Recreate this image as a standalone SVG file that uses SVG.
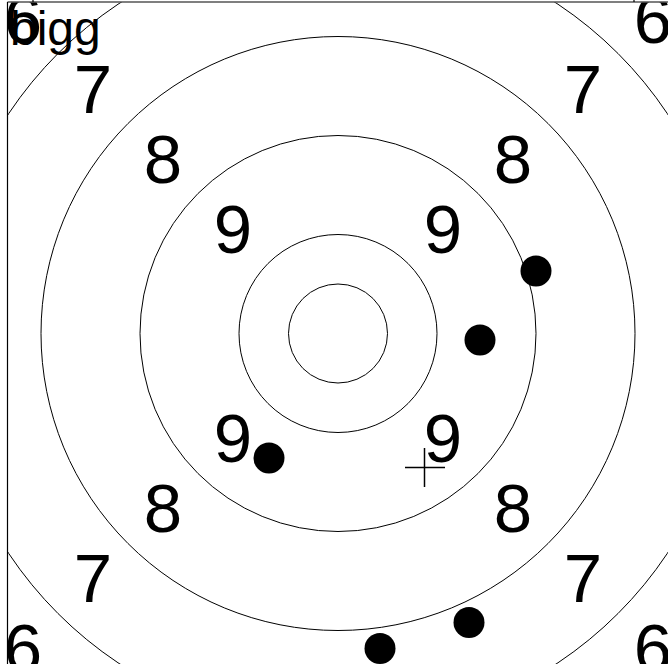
<svg xmlns="http://www.w3.org/2000/svg" width="668" height="664" viewBox="0 0 668 664">
<style>
.ring{fill:none;stroke:#000;stroke-width:1}
.num{font-family:"Liberation Sans",Arial,sans-serif;font-size:69px;fill:#000;text-anchor:middle}
.shot{fill:#000}
.axis{stroke:#000;stroke-width:1.2;fill:none}
</style>
<defs>
<clipPath id="plot"><rect x="8" y="2.5" width="700" height="700"/></clipPath>
</defs>
<rect width="668" height="664" fill="#fff"/>
<g id="axes">
<line class="axis" x1="7.5" y1="2" x2="7.5" y2="664"/>
<line class="axis" x1="7.5" y1="2" x2="668" y2="2"/>
<line class="axis" x1="33" y1="0" x2="33" y2="2"/>
<line class="axis" x1="634" y1="0" x2="634" y2="2"/>
</g>
<g clip-path="url(#plot)">
<g id="rings">
<circle class="ring" cx="338" cy="333.5" r="49.5"/>
<circle class="ring" cx="338" cy="333.5" r="99"/>
<circle class="ring" cx="338" cy="333.5" r="198"/>
<circle class="ring" cx="338" cy="333.5" r="297"/>
<circle class="ring" cx="338" cy="333.5" r="396"/>
</g>
<g id="scores">
<text class="num" x="23" y="43">6</text>
<text class="num" x="653" y="43">6</text>
<text class="num" x="93" y="113">7</text>
<text class="num" x="583" y="113">7</text>
<text class="num" x="163" y="183">8</text>
<text class="num" x="513" y="183">8</text>
<text class="num" x="233" y="253">9</text>
<text class="num" x="443" y="253">9</text>
<text class="num" x="233" y="462">9</text>
<text class="num" x="443" y="462">9</text>
<text class="num" x="163" y="532">8</text>
<text class="num" x="513" y="532">8</text>
<text class="num" x="93" y="602">7</text>
<text class="num" x="583" y="602">7</text>
<text class="num" x="23" y="672">6</text>
<text class="num" x="653" y="672">6</text>
</g>
</g>
<g id="label">
<text x="10" y="45" style="font-family:'Liberation Sans',Arial,sans-serif;font-size:48px;fill:#000">bigg</text>
</g>
<g id="shots">
<circle class="shot" cx="536" cy="271" r="15.5"/>
<circle class="shot" cx="480" cy="340" r="15.5"/>
<circle class="shot" cx="269" cy="458" r="15.5"/>
<circle class="shot" cx="469" cy="622.5" r="15.5"/>
<circle class="shot" cx="380" cy="648.5" r="15.5"/>
</g>
<g id="aim">
<line x1="405" y1="467.5" x2="445" y2="467.5" stroke="#000" stroke-width="1.5"/>
<line x1="424.5" y1="448" x2="424.5" y2="487" stroke="#000" stroke-width="1.5"/>
</g>
</svg>
